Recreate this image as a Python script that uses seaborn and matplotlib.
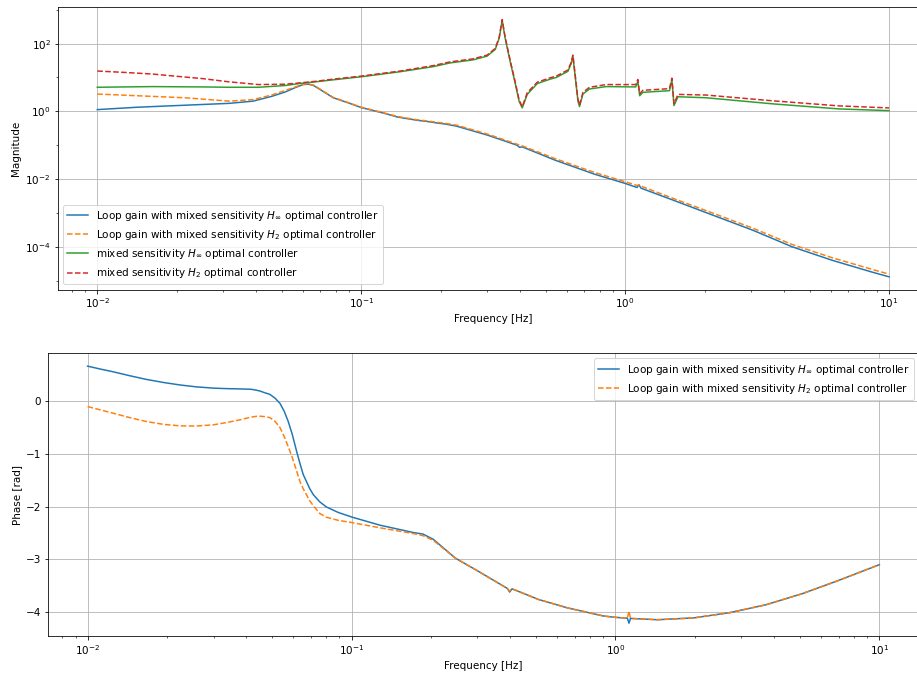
import matplotlib
matplotlib.use("Agg")
import matplotlib.pyplot as plt
from matplotlib.ticker import LogLocator, LogFormatterSciNotation, FixedLocator, NullFormatter
import seaborn as sns

# ---- magnitude of the loop gains ----
freq_loop = [0.01, 0.01413, 0.02153, 0.03162, 0.03890, 0.04571, 0.05129, 0.05623,
             0.06026, 0.06310, 0.06607, 0.06998, 0.07834, 0.09078, 0.1, 0.1211,
             0.1374, 0.1629, 0.1778, 0.1936, 0.2075, 0.2301, 0.3027, 0.3890,
             0.3981, 0.4074, 0.5433, 0.7674, 1.0, 1.109, 1.127, 1.148, 1.528,
             2.153, 3.041, 4.285, 6.053, 8.531, 10.0]
mag_loop_hinf = [1.122, 1.318, 1.514, 1.718, 1.995, 2.754, 3.673, 5.012,
                 6.166, 6.310, 5.754, 4.365, 2.512, 1.698, 1.288, 0.891,
                 0.676, 0.543, 0.501, 0.452, 0.422, 0.363, 0.195, 0.100,
                 0.0861, 0.0891, 0.0359, 0.0138, 0.00741, 0.00562, 0.00676, 0.00537, 0.00234,
                 0.000851, 0.000309, 0.0001, 4.03e-5, 1.82e-5, 1.29e-5]
mag_loop_h2 = [3.236, 2.884, 2.512, 1.995, 2.213, 3.020, 4.074, 5.248,
               6.310, 6.457, 5.888, 4.467, 2.570, 1.738, 1.318, 0.912,
               0.700, 0.562, 0.519, 0.473, 0.442, 0.389, 0.209, 0.107,
               0.100, 0.0955, 0.0398, 0.0155, 0.00832, 0.00646, 0.00661, 0.00617, 0.00263,
               0.000977, 0.000355, 0.000117, 4.79e-5, 2.19e-5, 1.55e-5]

# ---- magnitude of the mixed-sensitivity controllers ----
freq_ctrl = [0.01, 0.01259, 0.01622, 0.01995, 0.02512, 0.03162, 0.04074, 0.05129,
             0.05888, 0.06699, 0.07834, 0.1, 0.1406, 0.1875, 0.2173, 0.2655,
             0.2999, 0.3221, 0.3334, 0.3420, 0.3508, 0.3664, 0.3828, 0.3963,
             0.4074, 0.4256, 0.4645, 0.5200, 0.5483, 0.6067, 0.6237, 0.6339,
             0.6471, 0.6622, 0.6714, 0.6918, 0.7328, 0.8472, 1.096, 1.117,
             1.135, 1.167, 1.472, 1.503, 1.531, 1.585, 2.028, 3.622, 6.471, 10.0]
mag_ctrl_hinf = [5.129, 5.248, 5.370, 5.309, 5.248, 5.129, 5.129, 5.754,
                 6.683, 7.413, 8.511, 10.47, 14.79, 20.89, 26.92, 33.11,
                 42.66, 67.61, 147.9, 478.6, 147.9, 30.20, 6.918, 1.995,
                 1.259, 3.162, 6.607, 8.913, 10.0, 15.14, 25.12, 41.69,
                 10.0, 2.042, 1.380, 3.236, 4.571, 5.370, 5.248, 7.586,
                 2.884, 3.631, 4.074, 8.511, 1.479, 2.692, 2.512, 1.660, 1.175, 1.047]
mag_ctrl_h2 = [15.49, 14.13, 12.59, 10.84, 9.226, 7.413, 6.166, 6.310,
               6.918, 7.674, 8.913, 10.96, 15.49, 22.39, 28.84, 35.48,
               45.71, 72.44, 158.5, 512.9, 158.5, 33.11, 7.586, 2.188,
               1.349, 3.548, 7.244, 9.772, 10.96, 16.60, 27.54, 45.71,
               11.22, 2.291, 1.514, 3.631, 5.129, 6.166, 6.166, 8.710,
               3.311, 4.169, 4.677, 9.550, 1.660, 3.162, 3.020, 2.042, 1.445, 1.259]

# ---- phase of the loop gains ----
freq_phase = [0.01, 0.01122, 0.01250, 0.01445, 0.01671, 0.01950, 0.02239, 0.02570,
              0.02992, 0.03388, 0.03776, 0.04169, 0.04365, 0.04498, 0.04677, 0.04909,
              0.05129, 0.05358, 0.05559, 0.05754, 0.05957, 0.06194, 0.06368, 0.06561,
              0.06950, 0.07161, 0.07586, 0.08035, 0.08913, 0.1, 0.1279, 0.1714,
              0.1866, 0.2042, 0.2472, 0.2985, 0.3890, 0.3972, 0.4055, 0.4159,
              0.5105, 0.6577, 0.9016, 1.0, 1.109, 1.125, 1.140, 1.445,
              1.982, 2.716, 3.724, 5.105, 6.998, 10.0]
phase_hinf = [0.667, 0.61, 0.56, 0.485, 0.415, 0.355, 0.31, 0.275,
              0.25, 0.24, 0.235, 0.228, 0.21, 0.195, 0.165, 0.13,
              0.06, -0.04, -0.19, -0.38, -0.62, -0.95, -1.17, -1.39,
              -1.66, -1.77, -1.91, -2.006, -2.11, -2.195, -2.35, -2.49,
              -2.52, -2.62, -2.975, -3.21, -3.55, -3.62, -3.56, -3.58,
              -3.76, -3.92, -4.075, -4.10, -4.115, -4.21, -4.12, -4.145,
              -4.11, -4.01, -3.86, -3.65, -3.40, -3.10]
phase_h2 = [-0.10, -0.165, -0.226, -0.31, -0.384, -0.44, -0.465, -0.47,
            -0.447, -0.40, -0.352, -0.30, -0.285, -0.283, -0.29, -0.31,
            -0.38, -0.50, -0.67, -0.86, -1.06, -1.32, -1.516, -1.66,
            -1.89, -1.98, -2.13, -2.20, -2.26, -2.30, -2.40, -2.51,
            -2.55, -2.64, -2.975, -3.21, -3.55, -3.60, -3.56, -3.58,
            -3.76, -3.92, -4.075, -4.10, -4.115, -3.98, -4.12, -4.145,
            -4.11, -4.01, -3.86, -3.65, -3.40, -3.10]

lbl_loop_hinf = r"Loop gain with mixed sensitivity $H_\infty$ optimal controller"
lbl_loop_h2 = r"Loop gain with mixed sensitivity $H_2$ optimal controller"
lbl_ctrl_hinf = r"mixed sensitivity $H_\infty$ optimal controller"
lbl_ctrl_h2 = r"mixed sensitivity $H_2$ optimal controller"

plt.rcParams["font.size"] = 10.4
W, H = 917, 675
fig = plt.figure(figsize=(W / 72, H / 72), dpi=72)
ax_mag = fig.add_axes([57.7 / W, (H - 289.7) / H, 871 / W, 283.0 / H])
ax_ph = fig.add_axes([48.0 / W, (H - 636.0) / H, 871 / W, 282.7 / H])

# magnitude panel
sns.lineplot(x=freq_loop, y=mag_loop_hinf, ax=ax_mag, color="C0", linewidth=1.5,
             label=lbl_loop_hinf, sort=False)
sns.lineplot(x=freq_loop, y=mag_loop_h2, ax=ax_mag, color="C1", linewidth=1.5,
             linestyle="--", label=lbl_loop_h2, sort=False)
sns.lineplot(x=freq_ctrl, y=mag_ctrl_hinf, ax=ax_mag, color="C2", linewidth=1.5,
             label=lbl_ctrl_hinf, sort=False)
sns.lineplot(x=freq_ctrl, y=mag_ctrl_h2, ax=ax_mag, color="C3", linewidth=1.5,
             linestyle="--", label=lbl_ctrl_h2, sort=False)
ax_mag.set_xscale("log")
ax_mag.set_yscale("log")
# labelled decades every other power of ten on the magnitude axis
ax_mag.yaxis.set_major_locator(LogLocator(base=100.0))
ax_mag.yaxis.set_major_formatter(LogFormatterSciNotation(base=10.0))
ax_mag.yaxis.set_minor_locator(FixedLocator([1e-5, 1e-3, 1e-1, 1e1, 1e3]))
ax_mag.yaxis.set_minor_formatter(NullFormatter())
ax_mag.set_xlabel("Frequency [Hz]")
ax_mag.set_ylabel("Magnitude")
ax_mag.grid(True)
ax_mag.legend(loc="lower left")

# phase panel
sns.lineplot(x=freq_phase, y=phase_hinf, ax=ax_ph, color="C0", linewidth=1.5,
             label=lbl_loop_hinf, sort=False)
sns.lineplot(x=freq_phase, y=phase_h2, ax=ax_ph, color="C1", linewidth=1.5,
             linestyle="--", label=lbl_loop_h2, sort=False)
ax_ph.set_xscale("log")
ax_ph.set_xlabel("Frequency [Hz]")
ax_ph.set_ylabel("Phase [rad]")
ax_ph.grid(True)
ax_ph.legend(loc="upper right")

fig.savefig("out.png", dpi=72)
